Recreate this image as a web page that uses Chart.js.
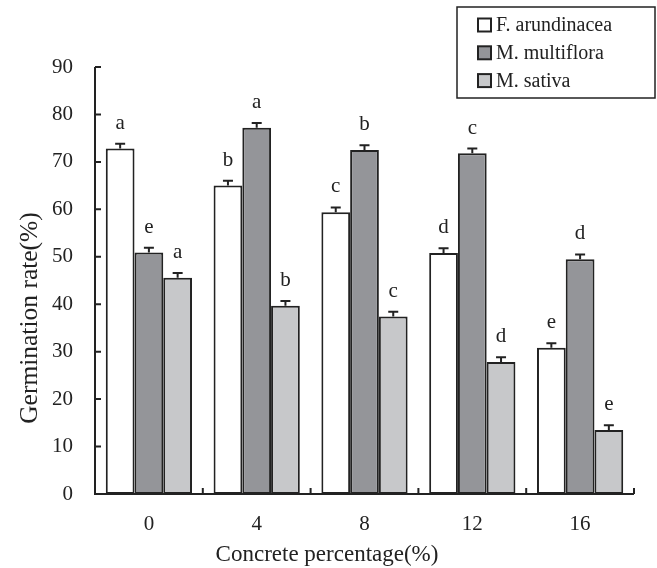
<!DOCTYPE html>
<html>
<head>
<meta charset="utf-8">
<script src="https://cdn.jsdelivr.net/npm/chart.js@4"></script>
<style>
html,body{margin:0;padding:0;background:#fff;}
#wrap{width:657px;height:568px;position:relative;}
</style>
</head>
<body>
<div id="wrap"><canvas id="c" width="657" height="568"></canvas></div>
<script>
const categories = ['0', '4', '8', '12', '16'];
const seriesNames = ['F. arundinacea', 'M. multiflora', 'M. sativa'];
const fArundinacea = [72.8, 65.0, 59.4, 50.8, 30.8];
const mMultiflora = [50.9, 77.2, 72.5, 71.8, 49.5];
const mSativa = [45.6, 39.7, 37.4, 27.8, 13.5];
const errF = [1.0, 1.0, 1.0, 1.0, 1.0];
const errM = [1.0, 1.0, 1.0, 1.0, 1.0];
const errS = [1.0, 1.0, 1.0, 1.0, 1.0];
const lettersF = ['a', 'b', 'c', 'd', 'e'];
const lettersM = ['e', 'a', 'b', 'c', 'd'];
const lettersS = ['a', 'b', 'c', 'd', 'e'];
const yTicks = [0, 10, 20, 30, 40, 50, 60, 70, 80, 90];
const xTitle = 'Concrete percentage(%)';
const yTitle = 'Germination rate(%)';

const FONT = '"Liberation Serif", "Times New Roman", serif';
const fills = ['#ffffff', '#949599', '#c7c8ca'];
const INK = '#222222';

const extras = [
  {err: errF, letters: lettersF},
  {err: errM, letters: lettersM},
  {err: errS, letters: lettersS}
];

const decor = {
  id: 'decor',
  afterDatasetsDraw(chart) {
    const ctx = chart.ctx;
    const x = chart.scales.x, y = chart.scales.y;
    const area = chart.chartArea;
    ctx.save();
    // error bars and letters
    chart.data.datasets.forEach((ds, di) => {
      const meta = chart.getDatasetMeta(di);
      meta.data.forEach((bar, i) => {
        const v = ds.data[i];
        const e = extras[di].err[i];
        const top = y.getPixelForValue(v + e);
        const base = y.getPixelForValue(v);
        ctx.strokeStyle = INK;
        ctx.lineWidth = 2;
        ctx.beginPath();
        ctx.moveTo(bar.x, base);
        ctx.lineTo(bar.x, top);
        ctx.moveTo(bar.x - 5, top);
        ctx.lineTo(bar.x + 5, top);
        ctx.stroke();
        ctx.fillStyle = '#222';
        ctx.font = '21px ' + FONT;
        ctx.textAlign = 'center';
        ctx.textBaseline = 'alphabetic';
        ctx.fillText(extras[di].letters[i], bar.x, top - 15);
      });
    });
    // axes
    ctx.strokeStyle = INK;
    ctx.lineWidth = 2;
    ctx.beginPath();
    ctx.moveTo(area.left, y.getPixelForValue(yTicks[yTicks.length - 1]));
    ctx.lineTo(area.left, area.bottom);
    ctx.lineTo(area.right, area.bottom);
    ctx.stroke();
    // y ticks inward
    ctx.beginPath();
    yTicks.forEach(t => {
      const py = y.getPixelForValue(t);
      ctx.moveTo(area.left, py);
      ctx.lineTo(area.left + 6, py);
    });
    // x ticks (category boundaries) upward
    const step = x.getPixelForValue(1) - x.getPixelForValue(0);
    for (let i = 0; i < categories.length; i++) {
      const px = x.getPixelForValue(i) + step / 2;
      ctx.moveTo(px, area.bottom);
      ctx.lineTo(px, area.bottom - 6);
    }
    ctx.stroke();
    // axis titles
    ctx.fillStyle = '#222';
    ctx.font = '23px ' + FONT;
    ctx.textAlign = 'center';
    ctx.textBaseline = 'alphabetic';
    ctx.fillText(xTitle, 327, 561);
    ctx.save();
    ctx.translate(37, 318);
    ctx.rotate(-Math.PI / 2);
    ctx.font = '25.5px ' + FONT;
    ctx.fillText(yTitle, 0, 0);
    ctx.restore();
    // legend
    const lx = 457, ly = 7, lw = 198, lh = 91;
    ctx.lineWidth = 1.5;
    ctx.strokeStyle = INK;
    ctx.strokeRect(lx, ly, lw, lh);
    chart.data.datasets.forEach((ds, di) => {
      const cy = 25 + di * 27.8;
      ctx.fillStyle = fills[di];
      ctx.fillRect(478, cy - 6.5, 13, 13);
      ctx.lineWidth = 2;
      ctx.strokeStyle = INK;
      ctx.strokeRect(478, cy - 6.5, 13, 13);
      ctx.fillStyle = '#222';
      ctx.font = '20px ' + FONT;
      ctx.textAlign = 'left';
      ctx.textBaseline = 'middle';
      ctx.fillText(ds.label, 496, cy + 1);
    });
    ctx.restore();
  }
};

new Chart(document.getElementById('c'), {
  type: 'bar',
  data: {
    labels: categories,
    datasets: [
      {label: seriesNames[0], data: fArundinacea, backgroundColor: fills[0], borderColor: INK, borderWidth: 2, borderSkipped: false},
      {label: seriesNames[1], data: mMultiflora, backgroundColor: fills[1], borderColor: INK, borderWidth: 2, borderSkipped: false},
      {label: seriesNames[2], data: mSativa, backgroundColor: fills[2], borderColor: INK, borderWidth: 2, borderSkipped: false}
    ]
  },
  plugins: [decor],
  options: {
    responsive: false,
    animation: false,
    layout: {padding: {top: 67, right: 23, left: 0, bottom: 0}},
    plugins: {legend: {display: false}, tooltip: {enabled: false}},
    datasets: {bar: {categoryPercentage: 0.8, barPercentage: 1.0}},
    scales: {
      x: {
        grid: {display: false, drawTicks: false},
        border: {display: false},
        ticks: {color: '#222', font: {family: FONT, size: 21}, padding: 18},
        afterFit(s) { s.height = 74; }
      },
      y: {
        min: 0, max: 90,
        grid: {display: false, drawTicks: false},
        border: {display: false},
        afterBuildTicks(s) { s.ticks = yTicks.map(v => ({value: v})); },
        ticks: {color: '#222', font: {family: FONT, size: 21}, padding: 22},
        afterFit(s) { s.width = 95; }
      }
    }
  }
});
</script>
</body>
</html>
